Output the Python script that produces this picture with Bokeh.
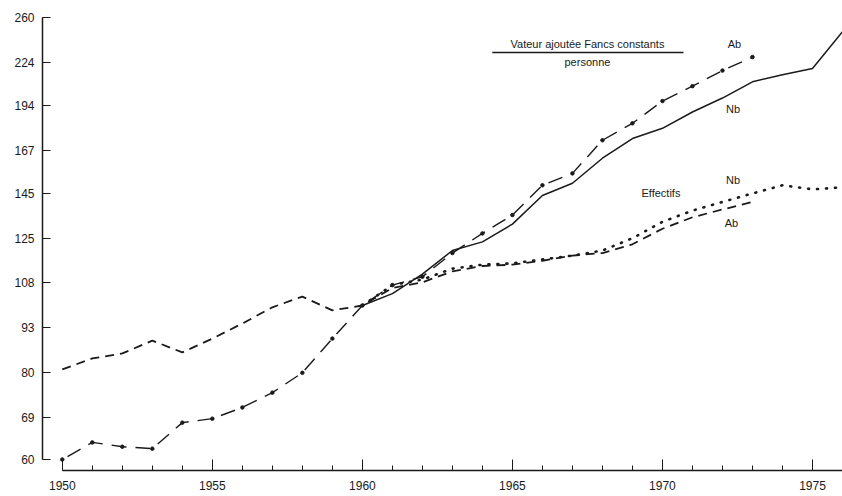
from bokeh.plotting import figure
from bokeh.models import Range1d, FixedTicker, CustomJSTickFormatter, Label
from bokeh.embed import file_html
from bokeh.resources import INLINE

# --- data ---
years_ab = list(range(1950, 1974))
years_nb = list(range(1960, 1977))

va_ab = [60, 63.5, 62.6, 62.2, 67.8, 68.7, 71.3, 74.9, 80, 89.6,
         100, 107, 110, 119, 127, 135, 149, 155, 173, 183, 197, 207, 218, 228]
va_nb = [100, 104, 111, 120, 123.5, 131, 144, 150, 163, 174, 180, 190, 199, 210, 215, 219.5, 248]

eff_ab = [80.9, 83.9, 85.3, 89, 85.6, 89.6, 94.2, 99.4, 103, 98.4,
          100, 106, 108, 112, 114, 114.5, 116, 118, 119, 122.5, 129, 134, 137.5, 141]
eff_nb = [100, 107, 109, 113, 114.5, 115, 116.5, 118, 120, 125, 132, 137, 141, 145, 149, 147, 148]

y_ticks = [60, 69, 80, 93, 108, 125, 145, 167, 194, 224, 260]
x_major = [1950, 1955, 1960, 1965, 1970, 1975]
x_minor = list(range(1950, 1977))

title_text = "Vateur ajoutée Fancs constants"
sub_text = "personne"

INK = "#1a1a1a"
FONT = "Liberation Sans"

p = figure(width=842, height=496, y_axis_type="log",
           x_range=Range1d(1949.34, 1976), y_range=Range1d(57.85, 270.5),
           output_backend="svg", toolbar_location=None,
           min_border_left=42, min_border_right=0, min_border_top=5, min_border_bottom=26)
p.outline_line_color = None
p.xgrid.visible = False
p.ygrid.visible = False
p.background_fill_color = "white"
p.border_fill_color = "white"

# value added per person
p.line(years_ab, va_ab, line_color=INK, line_width=1.4, line_dash="15 9", line_dash_offset=-6)
p.scatter(years_ab, va_ab, size=3.5, color=INK)
p.line(years_nb, va_nb, line_color=INK, line_width=1.5)

# staff numbers
p.line(years_ab, eff_ab, line_color=INK, line_width=1.8, line_dash="9 6")
p.line(years_nb, eff_nb, line_color=INK, line_width=2.6, line_dash="1 8", line_cap="round")

# axes
xa = p.xaxis[0]
xa.ticker = FixedTicker(ticks=x_major, minor_ticks=x_minor)
xa.bounds = (1950, 1976)
xa.major_tick_in = 11
xa.major_tick_out = 0
xa.minor_tick_in = 5
xa.minor_tick_out = 0
xa.axis_line_width = 1.5
xa.axis_line_color = INK
xa.major_tick_line_color = INK
xa.minor_tick_line_color = INK
xa.major_label_text_font = FONT
xa.major_label_text_font_size = "12px"
xa.major_label_text_color = INK
xa.major_label_standoff = 10

ya = p.yaxis[0]
ya.ticker = FixedTicker(ticks=y_ticks, minor_ticks=[])
ya.formatter = CustomJSTickFormatter(code="return Math.round(tick).toString();")
ya.bounds = (60, 260)
ya.major_tick_in = 8
ya.major_tick_out = 0
ya.minor_tick_in = 0
ya.minor_tick_out = 0
ya.axis_line_width = 1.5
ya.axis_line_color = INK
ya.major_tick_line_color = INK
ya.major_label_text_font = FONT
ya.major_label_text_font_size = "12px"
ya.major_label_text_color = INK
ya.major_label_standoff = 8

def lab(x, y, t):
    p.add_layout(Label(x=x, y=y, text=t, text_align="center", text_baseline="middle",
                       text_font=FONT, text_font_size="11px", text_color=INK))

lab(1967.5, 238, title_text)
lab(1967.5, 224, sub_text)
p.segment(x0=[1964.33], y0=[231.5], x1=[1970.7], y1=[231.5], line_color=INK, line_width=1.5)
lab(1972.4, 238, "Ab")
lab(1972.35, 191.6, "Nb")
lab(1972.35, 151.4, "Nb")
lab(1969.95, 145, "Effectifs")
lab(1972.3, 131.6, "Ab")

open("out.html", "w").write(file_html(p, INLINE))
